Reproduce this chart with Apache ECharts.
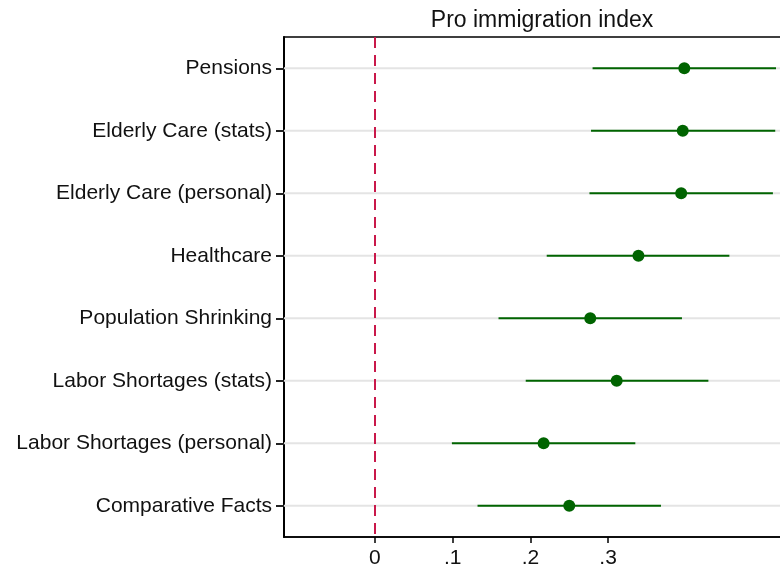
<!DOCTYPE html>
<html>
<head>
<meta charset="utf-8">
<script src="https://cdn.jsdelivr.net/npm/echarts@6/dist/echarts.min.js"></script>
<style>
  html, body { margin: 0; padding: 0; background: #fff; overflow: hidden; }
  #wrap { width: 780px; height: 571px; overflow: hidden; }
  /* plot frame continues a little past the right edge of the view */
  #chart { width: 790px; height: 571px; }
</style>
</head>
<body>
<div id="wrap"><div id="chart"></div></div>
<script>
// Coefficient estimates with 95% confidence intervals, one row per treatment
const categories = [
  'Pensions',
  'Elderly Care (stats)',
  'Elderly Care (personal)',
  'Healthcare',
  'Population Shrinking',
  'Labor Shortages (stats)',
  'Labor Shortages (personal)',
  'Comparative Facts'
];
const estimates = [0.398, 0.396, 0.394, 0.339, 0.277, 0.311, 0.217, 0.250];
const lowerCI   = [0.280, 0.278, 0.276, 0.221, 0.159, 0.194, 0.099, 0.132];
const upperCI   = [0.516, 0.515, 0.512, 0.456, 0.395, 0.429, 0.335, 0.368];
const tickValues = [0, 0.1, 0.2, 0.3];
const tickLabels = ['0', '.1', '.2', '.3'];

const GREEN = '#006400';
const FONT = 'Arial, "Liberation Sans", sans-serif';

const chart = echarts.init(document.getElementById('chart'), null, { renderer: 'canvas' });

const intervalData = categories.map((c, i) => [lowerCI[i], upperCI[i], i]);
const pointData = categories.map((c, i) => [estimates[i], i]);

chart.setOption({
  animation: false,
  backgroundColor: '#ffffff',
  textStyle: { fontFamily: FONT },
  title: {
    text: 'Pro immigration index',
    left: 537,
    textAlign: 'center',
    top: 4,
    textStyle: { fontFamily: FONT, fontSize: 23, fontWeight: 'normal', color: '#111' }
  },
  grid: {
    left: 284,
    right: 0,
    top: 37,
    bottom: 34,
    show: true,
    borderColor: '#000',
    borderWidth: 1.5,
    containLabel: false
  },
  xAxis: {
    type: 'value',
    min: -0.117,
    max: 0.534,
    splitLine: { show: false },
    axisLine: { show: true, onZero: false, lineStyle: { color: '#000', width: 1.5 } },
    axisTick: {
      show: true,
      length: 6,
      customValues: tickValues,
      lineStyle: { color: '#000', width: 1.5 }
    },
    axisLabel: {
      show: true,
      customValues: tickValues,
      fontSize: 21,
      color: '#111',
      fontFamily: FONT,
      margin: 11,
      formatter: function (v) {
        const k = tickValues.findIndex(t => Math.abs(t - v) < 1e-9);
        return k >= 0 ? tickLabels[k] : '';
      }
    }
  },
  yAxis: {
    type: 'category',
    data: categories,
    inverse: true,
    boundaryGap: true,
    axisLine: { show: true, onZero: false, lineStyle: { color: '#000', width: 2 } },
    axisTick: { show: true, alignWithLabel: true, length: 8, lineStyle: { color: '#222', width: 2 } },
    axisLabel: { fontSize: 21, color: '#111', fontFamily: FONT, margin: 12 },
    splitLine: { show: false }
  },
  series: [
    {
      // light horizontal guide at each row
      type: 'custom',
      silent: true,
      z: 1,
      data: categories.map((c, i) => [i]),
      encode: { y: 0 },
      renderItem: function (params, api) {
        const cs = params.coordSys;
        const y = api.coord([0, api.value(0)])[1];
        return {
          type: 'line',
          shape: { x1: cs.x, y1: y, x2: cs.x + cs.width, y2: y },
          style: { stroke: '#e4e4e4', lineWidth: 2 }
        };
      }
    },
    {
      // confidence interval bars
      type: 'custom',
      silent: true,
      z: 3,
      data: intervalData,
      encode: { x: [0, 1], y: 2 },
      renderItem: function (params, api) {
        const a = api.coord([api.value(0), api.value(2)]);
        const b = api.coord([api.value(1), api.value(2)]);
        return {
          type: 'line',
          shape: { x1: a[0], y1: a[1], x2: b[0], y2: b[1] },
          style: { stroke: GREEN, lineWidth: 2 }
        };
      }
    },
    {
      type: 'scatter',
      z: 4,
      data: pointData,
      symbol: 'circle',
      symbolSize: 12,
      itemStyle: { color: GREEN, opacity: 1 },
      markLine: {
        silent: true,
        symbol: ['none', 'none'],
        label: { show: false },
        lineStyle: { color: '#c9184a', type: [11, 7], width: 2 },
        data: [{ xAxis: 0 }],
        z: 2
      }
    }
  ]
});
</script>
</body>
</html>
